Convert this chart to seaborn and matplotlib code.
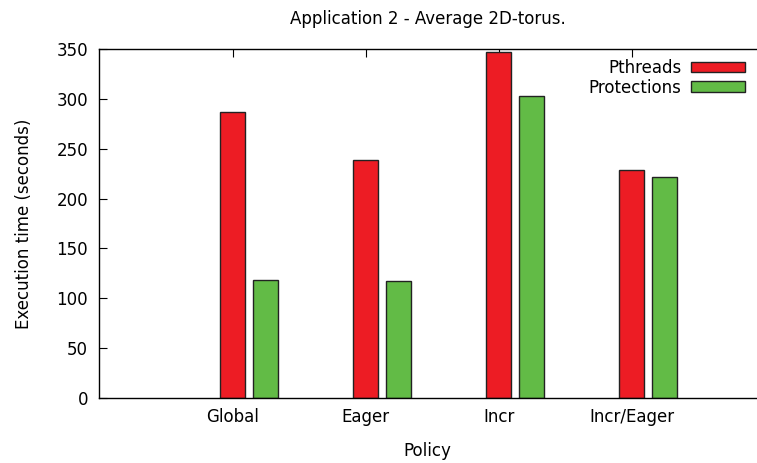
import pandas as pd
import numpy as np
import matplotlib
matplotlib.use('Agg')
import matplotlib.pyplot as plt
import seaborn as sns

# 数据
policies = ['Global', 'Eager', 'Incr', 'Incr/Eager']
pthreads = [287, 239, 347, 229]
protections = [118, 117, 303, 222]
series = ['Pthreads', 'Protections']
colors = ['#ed1c24', '#62bb46']

df = pd.DataFrame({
    'Policy': policies * 2,
    'time': pthreads + protections,
    'series': ['Pthreads'] * len(policies) + ['Protections'] * len(policies),
})

sns.set_theme(style='white')
plt.rcParams['font.family'] = ['DejaVu Sans']
plt.rcParams['text.color'] = 'black'
plt.rcParams['axes.labelcolor'] = 'black'
plt.rcParams['xtick.color'] = 'black'
plt.rcParams['ytick.color'] = 'black'

fig = plt.figure(figsize=(7.57, 4.63), dpi=100)
ax = fig.add_axes([0.1308, 0.1404, 0.8680, 0.7538])

sns.barplot(data=df, x='Policy', y='time', hue='series', order=policies,
            hue_order=series, palette=colors, width=0.496, gap=0.242,
            edgecolor='#222222', linewidth=1.0, ax=ax, saturation=1)

# 刻度放在红色柱子中心
ticks = np.arange(len(policies)) - 0.124
ax.set_xticks(ticks)
ax.set_xticklabels(policies, fontsize=12)
ax.set_xlim(-1.128, 3.812)
ax.set_ylim(0, 350)
ax.set_yticks(range(0, 351, 50))
ax.tick_params(axis='y', labelsize=12, pad=8)
ax.tick_params(axis='x', pad=7)
ax.tick_params(axis='both', direction='in', length=6, width=0.8, color='black',
               top=True, bottom=True, left=True)
ax.set_xlabel('Policy', fontsize=12, labelpad=12)
ax.set_ylabel('Execution time (seconds)', fontsize=12, labelpad=17)
ax.set_title('Application 2 - Average 2D-torus.', fontsize=12, pad=18)

for side in ['left', 'top', 'bottom']:
    ax.spines[side].set_color('black')
    ax.spines[side].set_linewidth(1.0)
ax.spines['right'].set_visible(False)

leg = ax.legend(loc='upper right', frameon=False, markerfirst=False,
                fontsize=12, handlelength=3.2, handleheight=0.6,
                labelspacing=0.1, borderaxespad=0.2, handletextpad=0.6,
                bbox_to_anchor=(0.998, 1.0))

fig.savefig('out.png', dpi=100)
